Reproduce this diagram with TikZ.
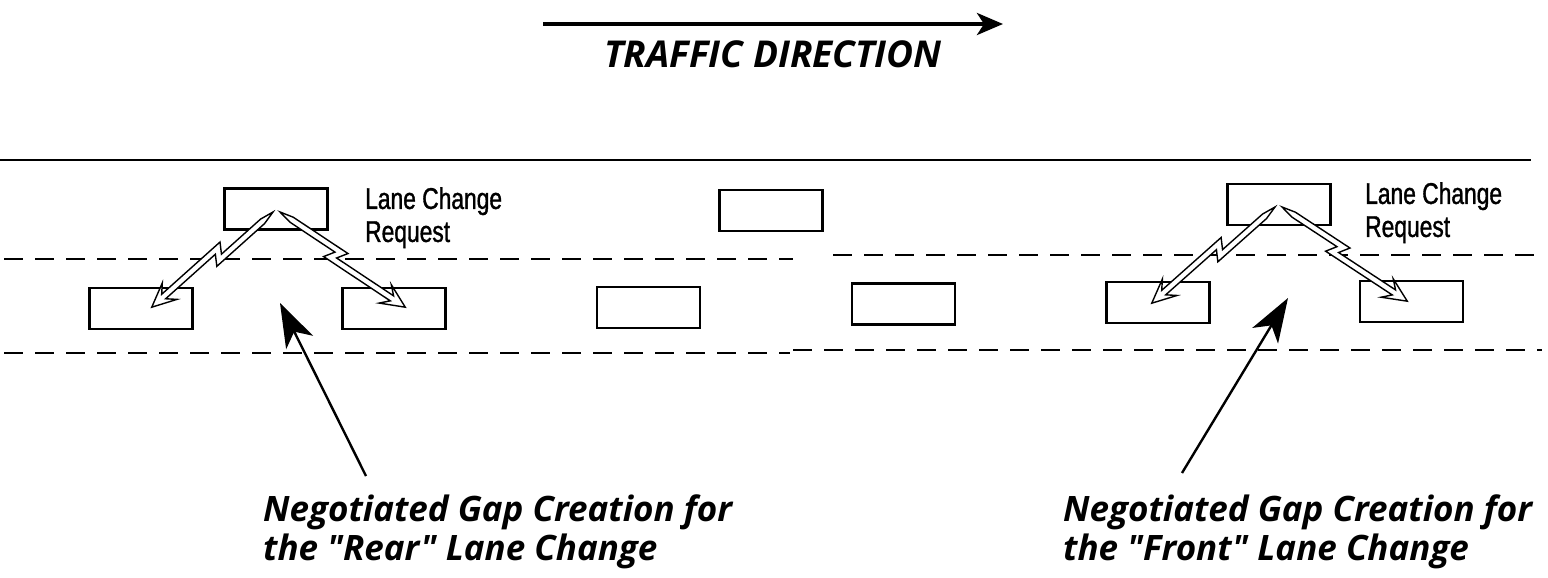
\documentclass[tikz,border=0pt]{standalone}
\usepackage{fontspec}
\setmainfont{Open Sans}
\newfontfamily\captionfont{Open Sans}
\newfontfamily\condfont[FakeStretch=0.76,FakeBold=1.2]{Liberation Sans}
\usetikzlibrary{arrows.meta,calc}

% hollow lightning-bolt arrow along the local x axis, #1 = length
\tikzset{
  bolt/.pic={
    \pgfmathsetmacro\bL{#1}
    \pgfmathsetmacro\bm{0.47*#1}
    \filldraw[fill=white, line width=1.4pt, line join=miter]
      (0,0) -- (14,3) -- (\bm+5.8,3) -- (\bm-1.2,-7) -- (\bL-16,-7)
      -- (\bL-24,1) -- (\bL,-10) -- (\bL-24,-21) -- (\bL-16,-13)
      -- (\bm-12.8,-13) -- (\bm-5.8,-3) -- (14,-3) -- cycle;
  },
  car/.style={draw, line width=2.5pt, minimum width=103pt, minimum height=41pt,
    inner sep=0pt},
  road/.style={line width=2pt},
  lanemark/.style={line width=2.8pt, dash pattern=on 19pt off 12pt},
  gaparrow/.style={line width=2.4pt, -{Stealth[length=44pt,width=30pt,inset=12pt]}},
  dirarrow/.style={line width=4pt, -{Stealth[length=26pt,width=22pt,inset=7pt]}},
  request/.style={anchor=north west, inner sep=0pt, align=left,
    font=\condfont\fontsize{30}{33}\selectfont},
  caption/.style={anchor=north west, inner sep=0pt, align=left,
    font=\captionfont\bfseries\itshape\fontsize{35}{39}\selectfont},
}

% draws a bolt from one named coordinate to another
\newcommand\boltto[2]{%
  \pgfpointdiff{\pgfpointanchor{#1}{center}}{\pgfpointanchor{#2}{center}}%
  \pgfgetlastxy\bdx\bdy
  \pgfmathsetmacro\blen{veclen(\bdx,\bdy)}%
  \pgfmathsetmacro\bang{atan2(\bdy,\bdx)+atan2(10,\blen)}%
  \pic[rotate=\bang, x=1pt, y=1pt] at (#1) {bolt=\blen};}

\begin{document}
\begin{tikzpicture}[x=1pt, y=-1pt]
\useasboundingbox (0,0) rectangle (1548,578);

% traffic direction
\coordinate (dirS) at (543,24);
\coordinate (dirE) at (1003,24);
\draw[dirarrow] (dirS) -- (dirE);
\node[anchor=north, inner sep=0pt,
  font=\captionfont\bfseries\itshape\fontsize{37}{40}\selectfont] (dirlabel) at (773,40) {TRAFFIC DIRECTION};

% road edge and lane markings
\coordinate (edgeL) at (0,160);
\coordinate (edgeR) at (1531,160);
\draw[road] (edgeL) -- (edgeR);
\coordinate (m1a) at (4,259);   \coordinate (m1b) at (793,259);
\coordinate (m2a) at (833,255); \coordinate (m2b) at (1542,255);
\coordinate (m3a) at (4,353);   \coordinate (m3b) at (790,353);
\coordinate (m4a) at (793,350); \coordinate (m4b) at (1542,350);
\draw[lanemark] (m1a) -- (m1b);
\draw[lanemark] (m2a) -- (m2b);
\draw[lanemark] (m3a) -- (m3b);
\draw[lanemark] (m4a) -- (m4b);

% vehicles, upper lane
\node[car] (tl) at (276,209) {};
\node[car] (tm) at (771,210.5) {};
\node[car] (tr) at (1279,204.5) {};
% vehicles, middle lane
\node[car] (c1) at (141,308.5) {};
\node[car] (c2) at (394,308.5) {};
\node[car] (c3) at (648.5,307.5) {};
\node[car] (c4) at (903.5,304) {};
\node[car] (c5) at (1158,302.5) {};
\node[car] (c6) at (1411.5,301.5) {};

% request labels
\node[request] (req1) at (365,187) {Lane Change\\Request};
\node[request] (req2) at (1365,182) {Lane Change\\Request};

% lane change requests sent to the neighbouring vehicles
\coordinate (b1s) at ($(tl.center)+(-3,3)$);
\coordinate (b1e) at ($(c1.center)+(11,-1.5)$);
\coordinate (b2s) at ($(tl.center)+(4,3)$);
\coordinate (b2e) at ($(c2.center)+(11,-1.5)$);
\coordinate (b3s) at ($(tr.center)+(-4,2.5)$);
\coordinate (b3e) at ($(c5.center)+(-6,0.5)$);
\coordinate (b4s) at ($(tr.center)+(3,2.5)$);
\coordinate (b4e) at ($(c6.center)+(-4.5,-0.5)$);
\boltto{b1s}{b1e}
\boltto{b2s}{b2e}
\boltto{b3s}{b3e}
\boltto{b4s}{b4e}

% gaps and their captions
\coordinate (gapRear) at (280,303);
\coordinate (tailRear) at (366,476);
\coordinate (gapFront) at (1288,298);
\coordinate (tailFront) at (1182,473);
\draw[gaparrow] (tailRear) -- (gapRear);
\draw[gaparrow] (tailFront) -- (gapFront);

\node[caption] (capRear) at (263,495) {Negotiated Gap Creation for\\the "Rear" Lane Change};
\node[caption] (capFront) at (1063,495) {Negotiated Gap Creation for\\the "Front" Lane Change};
\end{tikzpicture}
\end{document}
